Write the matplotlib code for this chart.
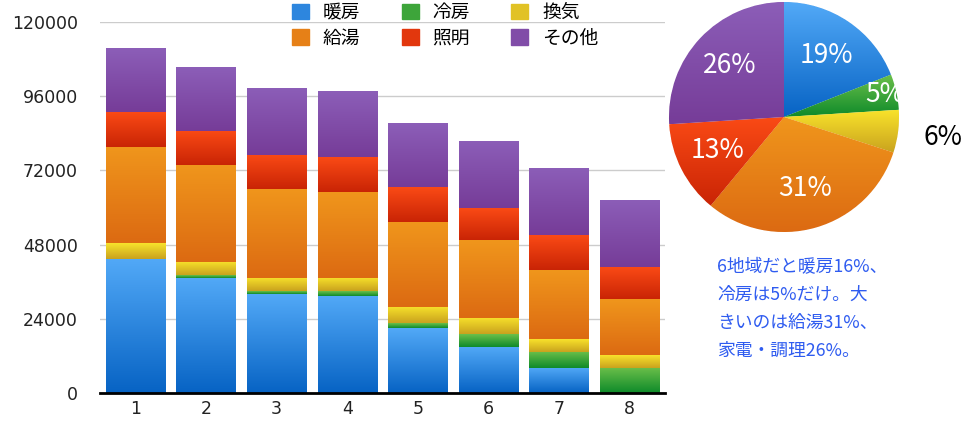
import numpy as np
import matplotlib.pyplot as plt
from matplotlib.colors import to_rgb
from matplotlib.patches import Rectangle

plt.rcParams['font.family'] = ['Noto Sans CJK JP', 'DejaVu Sans']

# ---- data ----
regions = ['1', '2', '3', '4', '5', '6', '7', '8']
categories = ['暖房', '冷房', '換気', '給湯', '照明', 'その他']

heating = [43400, 37300, 32000, 31400, 21000, 14900, 8100, 0]
cooling = [0, 800, 900, 1500, 1600, 4200, 5200, 8100]
ventilation = [5100, 4300, 4300, 4300, 5200, 5200, 4200, 4200]
hot_water = [31100, 31400, 28800, 27800, 27500, 25200, 22300, 18100]
lighting = [11300, 11000, 11000, 11300, 11300, 10300, 11300, 10300]
other = [20700, 20700, 21700, 21300, 20700, 21700, 21700, 21700]

pie_shares = [19, 5, 6, 31, 13, 26]   # region 6, percent

note = '6地域だと暖房16%、\n冷房は5%だけ。大\nきいのは給湯31%、\n家電・調理26%。'

# (top, bottom) colours for the vertical gradients
shades = [
    ('#52a9f7', '#0763c4'),
    ('#6cc04a', '#0e8a2a'),
    ('#f8e22b', '#c9a21e'),
    ('#f0961c', '#dc6a12'),
    ('#fa4a15', '#c92405'),
    ('#8c5eb8', '#763c98'),
]


def mix(a, b):
    return tuple((np.array(to_rgb(a)) + np.array(to_rgb(b))) / 2)


def gradient_fill(ax, patch, top, bottom, extent):
    t = np.array(to_rgb(top))
    b = np.array(to_rgb(bottom))
    s = np.linspace(0, 1, 128)[:, None]
    img = (b + (t - b) * s)[:, None, :]
    im = ax.imshow(img, extent=extent, origin='lower', aspect='auto',
                   interpolation='bilinear', zorder=patch.get_zorder() + 0.1)
    im.set_clip_path(patch)


fig = plt.figure(figsize=(9.78, 4.21), dpi=100)

# ---- stacked bars ----
ax = fig.add_axes([100 / 978, 28 / 421, 565 / 978, 371 / 421])
x = np.arange(1, len(regions) + 1)
series = [heating, cooling, ventilation, hot_water, lighting, other]
bottom = np.zeros(len(regions))
for vals, (c_top, c_bot) in zip(series, shades):
    bars = ax.bar(x, vals, width=0.84, bottom=bottom, color=c_bot,
                  linewidth=0, zorder=2)
    for bar in bars:
        if bar.get_height() <= 0:
            continue
        x0, y0 = bar.get_x(), bar.get_y()
        gradient_fill(ax, bar, c_top, c_bot,
                      [x0, x0 + bar.get_width(), y0, y0 + bar.get_height()])
    bottom += np.array(vals)

ax.set_xlim(0.5, 8.5)
ax.set_ylim(0, 120000)
ax.set_yticks(np.arange(0, 120001, 24000))
ax.set_xticks(x)
ax.set_xticklabels(regions)
ax.yaxis.grid(True, color='#cccccc', linewidth=1)
ax.set_axisbelow(True)
for side in ['left', 'right', 'top']:
    ax.spines[side].set_visible(False)
ax.spines['bottom'].set_linewidth(2)
ax.spines['bottom'].set_color('black')
ax.spines['bottom'].set_zorder(5)
ax.tick_params(axis='y', length=0, pad=16, labelcolor='#222222')
ax.tick_params(axis='x', length=0, pad=5, labelcolor='#222222')
for lab in ax.get_yticklabels() + ax.get_xticklabels():
    lab.set_family('DejaVu Sans')
    lab.set_fontsize(12.5)

# legend laid out row by row
order = [0, 3, 1, 4, 2, 5]
handles = [Rectangle((0, 0), 1, 1, color=mix(*shades[i])) for i in order]
ax.legend(handles, [categories[i] for i in order], ncol=3, frameon=False,
          loc='upper left', bbox_to_anchor=(292 / 978, 1 - 2 / 421),
          bbox_transform=fig.transFigure, fontsize=13.5, borderpad=0,
          borderaxespad=0, handlelength=0.9, handleheight=0.9,
          handletextpad=0.75, columnspacing=2.2, labelspacing=0.25)

# ---- pie ----
pax = fig.add_axes([669 / 978, 189 / 421, 230 / 978, 230 / 421])
wedges, _ = pax.pie(pie_shares, startangle=90, counterclock=False,
                    colors=[s[1] for s in shades],
                    wedgeprops=dict(linewidth=0.6, edgecolor='#ffffff'))
for w, (c_top, c_bot) in zip(wedges, shades):
    bb = w.get_path().get_extents()
    gradient_fill(pax, w, c_top, c_bot, [bb.x0, bb.x1, bb.y0, bb.y1])

cum = 0
for share, w in zip(pie_shares, wedges):
    mid = np.deg2rad(90 - (cum + share / 2) / 100 * 360)
    cum += share
    if share == 6:
        r, col = 1.39, 'black'
    elif share == 5:
        r, col = 0.9, 'white'
    else:
        r, col = 0.65, 'white'
    pax.text(r * np.cos(mid), r * np.sin(mid), f'{share}%', color=col,
             fontsize=19, ha='center', va='center', zorder=10, clip_on=False)

pax.set_xlim(-1, 1)
pax.set_ylim(-1, 1)
pax.set_aspect('equal')
pax.axis('off')

# ---- note ----
fig.text(717 / 978, 1 - 258 / 421, note, color='#2f5cf0', fontsize=12.8,
         ha='left', va='top', linespacing=1.72)

plt.savefig('out.png', dpi=100)
